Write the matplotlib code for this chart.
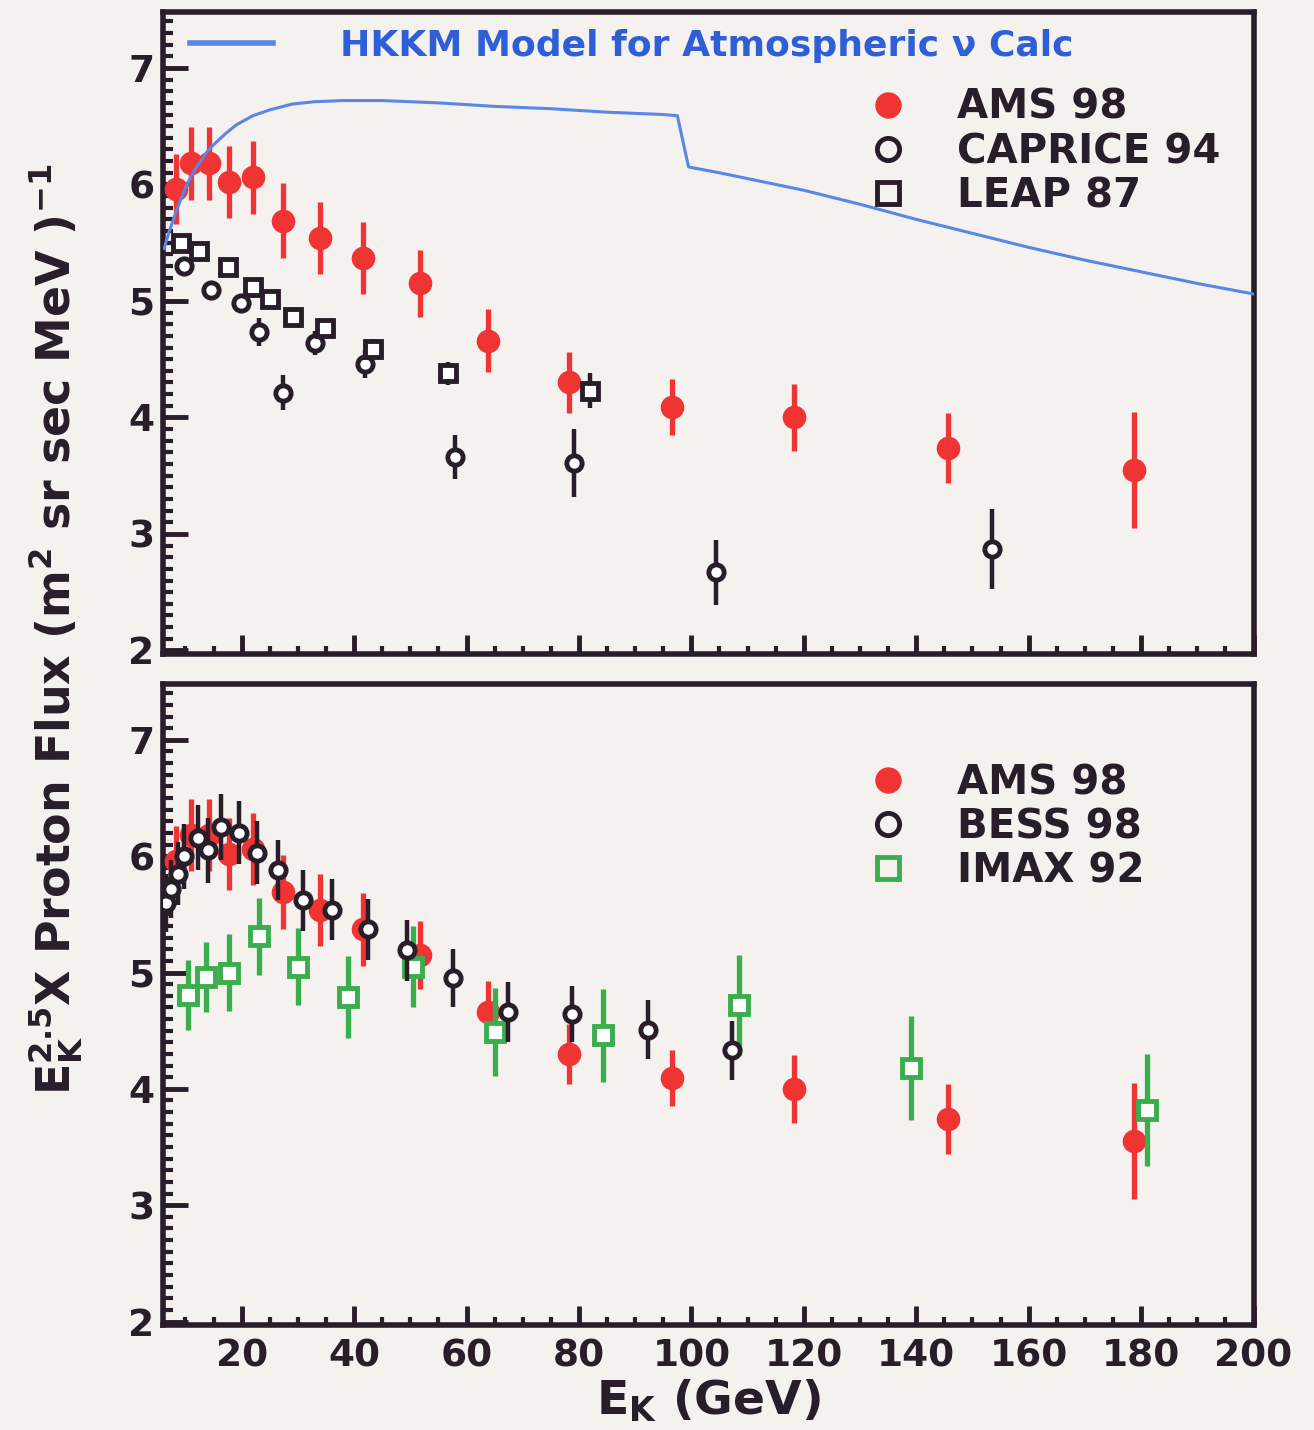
import numpy as np
import matplotlib
matplotlib.use('Agg')
import matplotlib.pyplot as plt
from matplotlib.lines import Line2D
from matplotlib.ticker import MultipleLocator

# AMS 98 (same points in both panels)
ams_x = [8.3, 11.0, 14.2, 17.7, 22.0, 27.3, 34.0, 41.6, 51.7, 63.8, 78.3, 96.6, 118.2, 145.7, 178.8]
ams_y = [5.96, 6.18, 6.18, 6.02, 6.06, 5.69, 5.54, 5.37, 5.15, 4.66, 4.30, 4.09, 4.00, 3.74, 3.55]
ams_err = [0.30, 0.31, 0.31, 0.31, 0.31, 0.32, 0.31, 0.31, 0.29, 0.27, 0.26, 0.24, 0.29, 0.30, 0.50]

# CAPRICE 94
cap_x = [9.7, 14.5, 19.8, 23.0, 27.3, 33.1, 42.0, 57.9, 79.2, 104.4, 153.5]
cap_y = [5.30, 5.09, 4.98, 4.73, 4.21, 4.64, 4.46, 3.66, 3.61, 2.67, 2.87]
cap_err = [0.04, 0.05, 0.06, 0.12, 0.15, 0.10, 0.12, 0.19, 0.29, 0.28, 0.34]

# LEAP 87
leap_x = [9.2, 12.4, 17.5, 22.0, 25.1, 29.2, 34.9, 43.4, 56.7, 81.9]
leap_y = [5.50, 5.43, 5.29, 5.12, 5.02, 4.86, 4.77, 4.59, 4.38, 4.23]
leap_err = [0.04, 0.04, 0.05, 0.05, 0.05, 0.06, 0.07, 0.08, 0.10, 0.15]

# HKKM model curve
hkkm_x = [6.2, 7.0, 8.0, 9.0, 10.0, 11.0, 12.0, 13.0, 14.0, 15.0, 17.0, 19.0, 22.0, 25.0, 29.0, 33.0,
          38.0, 45.0, 55.0, 65.0, 75.0, 85.0, 95.0, 97.5, 99.5, 105.0, 110.0, 120.0, 130.0, 140.0,
          150.0, 160.0, 170.0, 180.0, 190.0, 200.0]
hkkm_y = [5.45, 5.58, 5.72, 5.85, 5.97, 6.07, 6.15, 6.22, 6.29, 6.34, 6.43, 6.51, 6.59, 6.64, 6.69, 6.71,
          6.72, 6.72, 6.70, 6.67, 6.65, 6.62, 6.60, 6.59, 6.15, 6.10, 6.05, 5.95, 5.83, 5.70,
          5.58, 5.46, 5.35, 5.25, 5.15, 5.06]

# BESS 98
bess_x = [6.5, 7.5, 8.6, 9.8, 12.2, 14.0, 16.3, 19.5, 22.8, 26.4, 31.0, 36.1, 42.5, 49.4, 57.6, 67.3, 78.7, 92.2, 107.2]
bess_y = [5.60, 5.72, 5.85, 6.00, 6.16, 6.05, 6.25, 6.20, 6.03, 5.88, 5.62, 5.54, 5.37, 5.19, 4.95, 4.66, 4.64, 4.51, 4.33]
bess_err = [0.25, 0.25, 0.27, 0.28, 0.28, 0.28, 0.28, 0.27, 0.27, 0.26, 0.26, 0.26, 0.26, 0.26, 0.25, 0.26, 0.24, 0.25, 0.25]

# IMAX 92
imax_x = [10.4, 13.6, 17.7, 23.0, 30.1, 39.0, 50.5, 65.0, 84.2, 108.5, 139.0, 181.0]
imax_y = [4.81, 4.96, 5.00, 5.31, 5.05, 4.79, 5.05, 4.49, 4.46, 4.72, 4.18, 3.82]
imax_err = [0.30, 0.30, 0.33, 0.33, 0.33, 0.35, 0.35, 0.38, 0.40, 0.43, 0.45, 0.48]

xticks = [20, 40, 60, 80, 100, 120, 140, 160, 180, 200]
yticks = [2, 3, 4, 5, 6, 7]

RED = '#f03434'
BLK = '#2a1d2a'
GRN = '#3aae4c'
BLUE_LINE = '#5a86e6'
BLUE_TXT = '#2f5fd6'
BG = '#f4f1ee'

plt.rcParams['font.family'] = ['DejaVu Sans']
plt.rcParams['font.weight'] = 'bold'
plt.rcParams['mathtext.default'] = 'bf'

fig = plt.figure(figsize=(13.14, 14.30), dpi=100, facecolor=BG)
ax1 = fig.add_axes([0.124, 0.5427, 0.830, 0.4489])
ax2 = fig.add_axes([0.124, 0.0734, 0.830, 0.4483])

for ax in (ax1, ax2):
    ax.set_facecolor(BG)
    ax.set_xlim(6, 200)
    ax.set_ylim(1.97, 7.48)
    ax.set_xticks(xticks)
    ax.set_yticks(yticks)
    ax.xaxis.set_minor_locator(MultipleLocator(5))
    ax.yaxis.set_minor_locator(MultipleLocator(0.1))
    ax.tick_params(axis='both', which='major', direction='in', colors=BLK, width=3.5,
                   labelsize=27, labelcolor=BLK)
    ax.tick_params(axis='x', which='major', length=14, pad=10)
    ax.tick_params(axis='y', which='major', length=18, pad=6)
    ax.tick_params(axis='x', which='minor', direction='in', length=6, width=3, colors=BLK)
    ax.tick_params(axis='y', which='minor', direction='in', length=7, width=3, colors=BLK)
    for s in ax.spines.values():
        s.set_linewidth(4)
        s.set_color(BLK)
    for lab in ax.get_xticklabels() + ax.get_yticklabels():
        lab.set_fontweight('bold')

ax1.tick_params(axis='x', labelbottom=False)

# top panel
ax1.errorbar(ams_x, ams_y, yerr=ams_err, fmt='o', color=RED, ms=16, elinewidth=3.8, capsize=0, zorder=3)
ax1.errorbar(cap_x, cap_y, yerr=cap_err, fmt='o', color=BLK, mfc='white', mec=BLK, ms=11, mew=3.5,
             elinewidth=3.2, capsize=0, zorder=4)
ax1.errorbar(leap_x, leap_y, yerr=leap_err, fmt='s', color=BLK, mfc='white', mec=BLK, ms=12, mew=3.5,
             elinewidth=3.2, capsize=0, zorder=4)
hk, = ax1.plot(hkkm_x, hkkm_y, color=BLUE_LINE, lw=2.2, zorder=5)

leg_hk = ax1.legend([Line2D([], [], color=BLUE_LINE, lw=4)], ['HKKM Model for Atmospheric \u03bd Calc'],
                    loc='upper left', bbox_to_anchor=(0.005, 1.008), frameon=False,
                    handlelength=2.3, handletextpad=1.85, borderpad=0.1, labelcolor=BLUE_TXT,
                    prop={'weight': 'bold', 'size': 26})
ax1.add_artist(leg_hk)

h_top = [Line2D([], [], ls='none', marker='o', color=RED, ms=18),
         Line2D([], [], ls='none', marker='o', mfc='none', mec=BLK, ms=16, mew=3.5),
         Line2D([], [], ls='none', marker='s', mfc='none', mec=BLK, ms=16, mew=3.5)]
ax1.legend(h_top, ['AMS 98', 'CAPRICE 94', 'LEAP 87'], loc='upper left', bbox_to_anchor=(0.628, 0.913),
           frameon=False, handlelength=1.0, handletextpad=1.2, labelspacing=0.1, borderpad=0,
           labelcolor=BLK, prop={'weight': 'bold', 'size': 29})

# bottom panel
ax2.errorbar(ams_x, ams_y, yerr=ams_err, fmt='o', color=RED, ms=16, elinewidth=3.8, capsize=0, zorder=3)
ax2.errorbar(imax_x, imax_y, yerr=imax_err, fmt='s', color=GRN, mfc='white', mec=GRN, ms=13, mew=3.5,
             elinewidth=3.8, capsize=0, zorder=4)
ax2.errorbar(bess_x, bess_y, yerr=bess_err, fmt='o', color=BLK, mfc='white', mec=BLK, ms=11, mew=3.5,
             elinewidth=3.2, capsize=0, zorder=5)

h_bot = [Line2D([], [], ls='none', marker='o', color=RED, ms=18),
         Line2D([], [], ls='none', marker='o', mfc='none', mec=BLK, ms=16, mew=3.5),
         Line2D([], [], ls='none', marker='s', mfc='none', mec=GRN, ms=16, mew=3.5)]
ax2.legend(h_bot, ['AMS 98', 'BESS 98', 'IMAX 92'], loc='upper left', bbox_to_anchor=(0.628, 0.908),
           frameon=False, handlelength=1.0, handletextpad=1.2, labelspacing=0.1, borderpad=0,
           labelcolor=BLK, prop={'weight': 'bold', 'size': 29})

ax2.set_xlabel('E$_\\mathbf{K}$ (GeV)', fontsize=34, fontweight='bold', color=BLK, labelpad=2)

fig.text(0.042, 0.56, 'E$_\\mathbf{K}^{\\mathbf{2.5}}$X Proton Flux (m$^\\mathbf{2}$ sr sec MeV )$^\\mathbf{-1}$',
         rotation=90, ha='center', va='center', fontsize=33, fontweight='bold', color=BLK)

fig.savefig('out.png', dpi=100, facecolor=BG)
